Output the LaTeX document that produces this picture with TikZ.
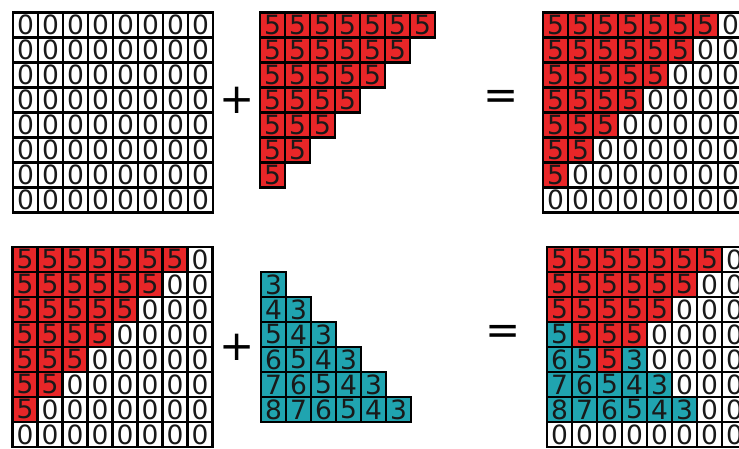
\documentclass[tikz,border=0pt]{standalone}
\usepackage{fontspec}
\setsansfont{DejaVu Sans}
\definecolor{cr}{RGB}{232,38,40}
\definecolor{ct}{RGB}{32,164,176}
\definecolor{cw}{RGB}{255,255,255}
\tikzset{
  cellbox/.style={draw=black, line width=2.5pt, minimum width=25pt, minimum height=25pt,
    inner sep=0pt, outer sep=0pt, font=\sffamily\fontsize{26.5}{26.5}\selectfont, text=black!90},
  opsign/.style={font=\sffamily\fontsize{42}{42}\selectfont, inner sep=0pt, text=black}
}
\newcommand\mygrid[4]{%
  \foreach \rowlist [count=\r from 0] in {#4} {
    \foreach \k/\v [count=\c from 0] in \rowlist {
      \node[cellbox, fill=c\k] (#1-\r-\c) at ({#2+12.5+25*\c},{#3+12.5+25*\r}) {\v};
    }
  }%
}
\begin{document}
\begin{tikzpicture}[x=1pt,y=-1pt]
\useasboundingbox (0,0) rectangle (739,449);
\clip (0,0) rectangle (739,449);
\fill[white] (0,0) rectangle (739,449);
% top-left zeros
\mygrid{A}{13}{12.5}{
 {w/0,w/0,w/0,w/0,w/0,w/0,w/0,w/0},
 {w/0,w/0,w/0,w/0,w/0,w/0,w/0,w/0},
 {w/0,w/0,w/0,w/0,w/0,w/0,w/0,w/0},
 {w/0,w/0,w/0,w/0,w/0,w/0,w/0,w/0},
 {w/0,w/0,w/0,w/0,w/0,w/0,w/0,w/0},
 {w/0,w/0,w/0,w/0,w/0,w/0,w/0,w/0},
 {w/0,w/0,w/0,w/0,w/0,w/0,w/0,w/0},
 {w/0,w/0,w/0,w/0,w/0,w/0,w/0,w/0}}
% red triangle
\mygrid{B}{260}{12.5}{
 {r/5,r/5,r/5,r/5,r/5,r/5,r/5},
 {r/5,r/5,r/5,r/5,r/5,r/5},
 {r/5,r/5,r/5,r/5,r/5},
 {r/5,r/5,r/5,r/5},
 {r/5,r/5,r/5},
 {r/5,r/5},
 {r/5}}
% top-right result
\mygrid{C}{543}{12.5}{
 {r/5,r/5,r/5,r/5,r/5,r/5,r/5,w/0},
 {r/5,r/5,r/5,r/5,r/5,r/5,w/0,w/0},
 {r/5,r/5,r/5,r/5,r/5,w/0,w/0,w/0},
 {r/5,r/5,r/5,r/5,w/0,w/0,w/0,w/0},
 {r/5,r/5,r/5,w/0,w/0,w/0,w/0,w/0},
 {r/5,r/5,w/0,w/0,w/0,w/0,w/0,w/0},
 {r/5,w/0,w/0,w/0,w/0,w/0,w/0,w/0},
 {w/0,w/0,w/0,w/0,w/0,w/0,w/0,w/0}}
% bottom-left
\mygrid{D}{12.5}{247}{
 {r/5,r/5,r/5,r/5,r/5,r/5,r/5,w/0},
 {r/5,r/5,r/5,r/5,r/5,r/5,w/0,w/0},
 {r/5,r/5,r/5,r/5,r/5,w/0,w/0,w/0},
 {r/5,r/5,r/5,r/5,w/0,w/0,w/0,w/0},
 {r/5,r/5,r/5,w/0,w/0,w/0,w/0,w/0},
 {r/5,r/5,w/0,w/0,w/0,w/0,w/0,w/0},
 {r/5,w/0,w/0,w/0,w/0,w/0,w/0,w/0},
 {w/0,w/0,w/0,w/0,w/0,w/0,w/0,w/0}}
% teal triangle
\mygrid{E}{261}{272}{
 {t/3},
 {t/4,t/3},
 {t/5,t/4,t/3},
 {t/6,t/5,t/4,t/3},
 {t/7,t/6,t/5,t/4,t/3},
 {t/8,t/7,t/6,t/5,t/4,t/3}}
% bottom-right result
\mygrid{F}{547}{247}{
 {r/5,r/5,r/5,r/5,r/5,r/5,r/5,w/0},
 {r/5,r/5,r/5,r/5,r/5,r/5,w/0,w/0},
 {r/5,r/5,r/5,r/5,r/5,w/0,w/0,w/0},
 {t/5,r/5,r/5,r/5,w/0,w/0,w/0,w/0},
 {t/6,t/5,r/5,t/3,w/0,w/0,w/0,w/0},
 {t/7,t/6,t/5,t/4,t/3,w/0,w/0,w/0},
 {t/8,t/7,t/6,t/5,t/4,t/3,w/0,w/0},
 {w/0,w/0,w/0,w/0,w/0,w/0,w/0,w/0}}
% operators
\node[opsign] (plus1) at (237,100) {+};
\node[opsign] (eq1) at (501,100) {=};
\node[opsign] (plus2) at (237,347) {+};
\node[opsign] (eq2) at (503,335) {=};
\end{tikzpicture}
\end{document}
